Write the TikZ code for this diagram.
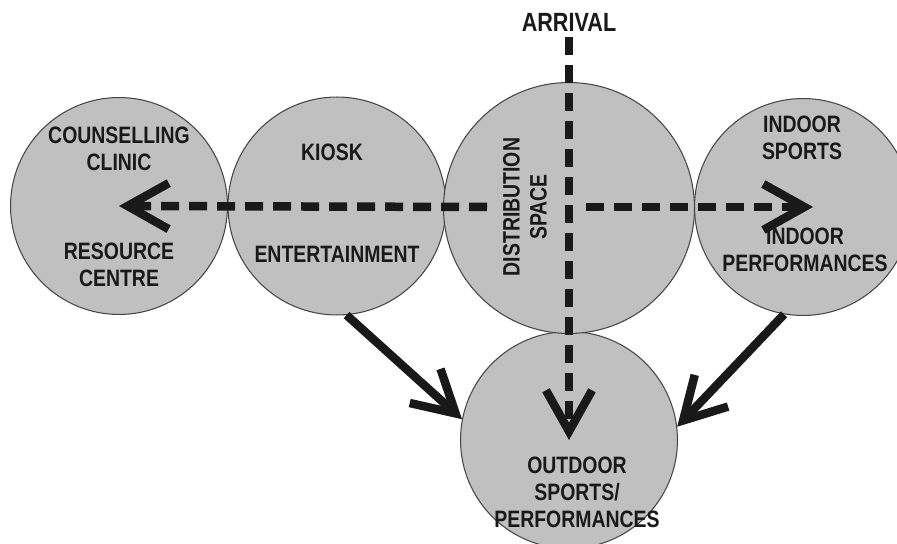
\documentclass[tikz,border=0pt]{standalone}
\usepackage{fontspec}
\newfontfamily\narrowsf[FakeStretch=0.82]{Liberation Sans}
\usetikzlibrary{arrows.meta,positioning}
\definecolor{roomgray}{RGB}{192,192,192}
\definecolor{rimgray}{RGB}{70,70,70}
\definecolor{inkblack}{RGB}{25,25,25}
\tikzset{
  room/.style={circle,draw=rimgray,line width=0.6pt,fill=roomgray,inner sep=0pt},
  lbl/.style={align=center,text=inkblack,font=\narrowsf\bfseries\fontsize{13.5}{15.4}\selectfont},
  flow/.style={line width=0.17cm,draw=inkblack,-{Straight Barb[length=0.82cm,width=0.92cm]}},
  dashflow/.style={flow,dash pattern=on 0.36cm off 0.2cm},
}
\begin{document}
\begin{tikzpicture}[x=0.02cm,y=-0.02cm]
 %the page
  \clip (0,0) rectangle (897,544);
 %draw rooms
  \node[room,minimum size=4.34cm] (counsel) at (119,206) {};
  \node[room,minimum size=4.36cm] (kiosk) at (337,206) {};
  \node[room,minimum size=4.34cm] (indoor) at (803,207) {};
  \node[room,minimum size=4.34cm] (outdoor) at (569,440) {};
  \node[room,minimum size=5.02cm] (dist) at (569,208) {};
 %room names
  \node[lbl] (counsellbl) at (119,149) {COUNSELLING\\CLINIC};
  \node[lbl] (resourcelbl) at (119,265) {RESOURCE\\CENTRE};
  \node[lbl] (kiosklbl) at (332,152) {KIOSK};
  \node[lbl] (entlbl) at (337,254) {ENTERTAINMENT};
  \node[lbl,rotate=90] (distlbl) at (525,207) {DISTRIBUTION\\SPACE};
  \node[lbl] (sportslbl) at (802,138) {INDOOR\\SPORTS};
  \node[lbl] (perflbl) at (805,250) {INDOOR\\PERFORMANCES};
  \node[lbl] (outlbl) at (577,492) {OUTDOOR\\SPORTS/\\PERFORMANCES};
  \node[lbl,font=\narrowsf\bfseries\fontsize{15}{17}\selectfont] (arrival) at (569,22) {ARRIVAL};
 %draw flows
  \coordinate (westgo) at (487,207);
  \coordinate (eastgo) at (586,207);
  \coordinate (easttip) at (813,207);
  \draw[dashflow] (westgo) -- (counsel.center);
  \draw[dashflow] (eastgo) -- (easttip);
  \draw[dashflow] (arrival.south) -- (outdoor.center);
  \draw[flow] (kiosk.-85) -- (outdoor.169);
  \draw[flow] (indoor.-100) -- (outdoor.7);
\end{tikzpicture}
\end{document}
